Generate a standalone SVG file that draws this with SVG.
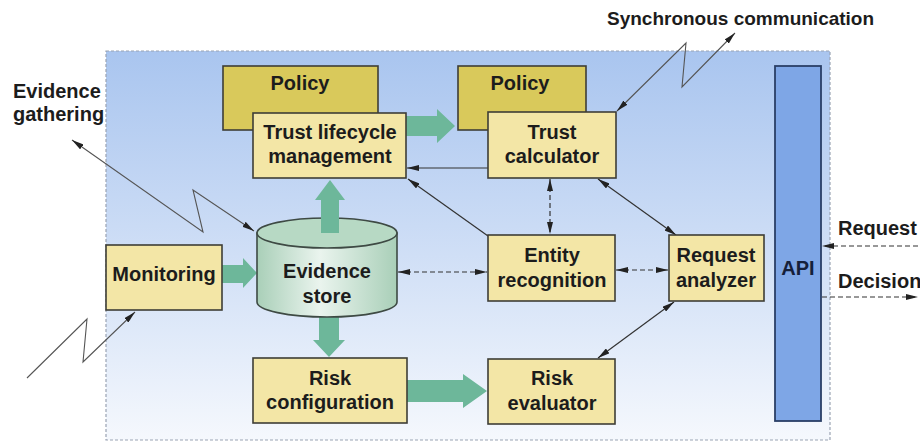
<svg xmlns="http://www.w3.org/2000/svg" width="920" height="443" viewBox="0 0 920 443">
<style>
text{font-family:"Liberation Sans",Arial,sans-serif;font-weight:bold;font-size:20px;fill:#1c1c1c;text-anchor:middle}
.lbl{text-anchor:start}
.node{fill:#f3e6a6;stroke:#3e3e36;stroke-width:1.6}
.policy{fill:#d9c95b;stroke:#3e3e36;stroke-width:1.6}
.fat{fill:#6db79a}
.ln{fill:none;stroke:#333;stroke-width:1.2}
.dash{stroke-dasharray:5 3}
.zig{fill:none;stroke:#555;stroke-width:1.1}
</style>
<defs>
<linearGradient id="bg" x1="0" y1="0" x2="0" y2="1">
<stop offset="0" stop-color="#a9c5ef"/>
<stop offset="0.45" stop-color="#cadbf5"/>
<stop offset="1" stop-color="#f5f8fd"/>
</linearGradient>
<linearGradient id="cyl" x1="0" y1="0" x2="1" y2="0">
<stop offset="0" stop-color="#a9cfb8"/>
<stop offset="0.45" stop-color="#eaf4ee"/>
<stop offset="1" stop-color="#a9cfb8"/>
</linearGradient>
<marker id="ah" viewBox="0 0 12 6" refX="12" refY="3" markerWidth="12" markerHeight="6" markerUnits="userSpaceOnUse" orient="auto-start-reverse">
<path d="M0,0 L12,3 L0,6 z" fill="#222"/>
</marker>
</defs>
<rect x="106" y="51" width="724" height="389" fill="url(#bg)" stroke="#9aa3b3" stroke-width="1.2" stroke-dasharray="3 2"/>

<g id="connectors">
<polygon class="fat" points="406,116 437,116 437,109 455,126 437,143 437,136 406,136"/>
<polygon class="fat" points="222,265 243,265 243,258 257,273 243,288 243,283 222,283"/>
<polygon class="fat" points="319,300 339,300 339,340 345,340 329,357 313,340 319,340"/>
<polygon class="fat" points="407,380 463,380 463,374 487,391 463,408 463,402 407,402"/>
<line class="ln" x1="488" y1="168" x2="407" y2="168" marker-end="url(#ah)"/>
<line class="ln" x1="488" y1="236" x2="408" y2="179" marker-end="url(#ah)"/>
<line class="ln dash" x1="550" y1="179" x2="550" y2="234" marker-start="url(#ah)" marker-end="url(#ah)"/>
<line class="ln dash" x1="398" y1="272" x2="487" y2="272" marker-start="url(#ah)" marker-end="url(#ah)"/>
<line class="ln dash" x1="616" y1="270" x2="668" y2="270" marker-start="url(#ah)" marker-end="url(#ah)"/>
<line class="ln" x1="598" y1="179" x2="676" y2="235" marker-start="url(#ah)" marker-end="url(#ah)"/>
<line class="ln" x1="674" y1="302" x2="598" y2="358" marker-start="url(#ah)" marker-end="url(#ah)"/>
<line class="ln dash" x1="918" y1="246" x2="822" y2="246" marker-end="url(#ah)"/>
<line class="ln dash" x1="822" y1="297" x2="918" y2="297" marker-end="url(#ah)"/>
<polyline class="zig" points="72,140 203,232 193,190 254,231" marker-start="url(#ah)" marker-end="url(#ah)"/>
<polyline class="zig" points="27,378 87,319 83,362 135,312" marker-end="url(#ah)"/>
<polyline class="zig" points="735,33 682,87 686,43 617,111" marker-start="url(#ah)" marker-end="url(#ah)"/>
</g>

<g id="policy1"><rect class="policy" x="223" y="66" width="155" height="64"/><text x="300" y="90">Policy</text></g>
<g id="policy2"><rect class="policy" x="458" y="66" width="128" height="64"/><text x="520" y="90">Policy</text></g>
<g id="trust-lifecycle"><rect class="node" x="253" y="113" width="153" height="65"/><text x="330" y="139">Trust lifecycle</text><text x="330" y="163">management</text></g>
<g id="trust-calculator"><rect class="node" x="488" y="112" width="128" height="66"/><text x="552" y="139">Trust</text><text x="552" y="163">calculator</text></g>
<g id="monitoring"><rect class="node" x="106" y="245" width="116" height="65"/><text x="164" y="281">Monitoring</text></g>
<g id="evidence-store">
<path d="M257,233 L257,302 A70,15 0 0 0 397,302 L397,233 Z" fill="url(#cyl)" stroke="#3e4a44" stroke-width="1.6"/>
<ellipse cx="327" cy="233" rx="70" ry="15" fill="#b7d9c4" stroke="#3e4a44" stroke-width="1.6"/>
<text x="327" y="278">Evidence</text><text x="327" y="303">store</text>
</g>
<polygon class="fat" points="321,233 339,233 339,200 345,200 330,180 315,200 321,200"/>
<g id="risk-configuration"><rect class="node" x="253" y="358" width="154" height="65"/><text x="330" y="385">Risk</text><text x="330" y="409">configuration</text></g>
<g id="entity-recognition"><rect class="node" x="488" y="235" width="127" height="66"/><text x="552" y="262">Entity</text><text x="552" y="287">recognition</text></g>
<g id="request-analyzer"><rect class="node" x="669" y="235" width="95" height="66"/><text x="716" y="262">Request</text><text x="716" y="287">analyzer</text></g>
<g id="risk-evaluator"><rect class="node" x="488" y="359" width="127" height="65"/><text x="552" y="385">Risk</text><text x="552" y="410">evaluator</text></g>
<g id="api"><rect x="775" y="66" width="46" height="355" fill="#7ea6e6" stroke="#2a3f66" stroke-width="1.8"/><text x="798" y="275" style="fill:#15203a">API</text></g>

<g id="labels">
<text class="lbl" x="13" y="98">Evidence</text>
<text class="lbl" x="13" y="121">gathering</text>
<text class="lbl" x="607" y="25" style="font-size:19px">Synchronous communication</text>
<text class="lbl" x="838" y="235">Request</text>
<text class="lbl" x="838" y="288">Decision</text>
</g>
</svg>
